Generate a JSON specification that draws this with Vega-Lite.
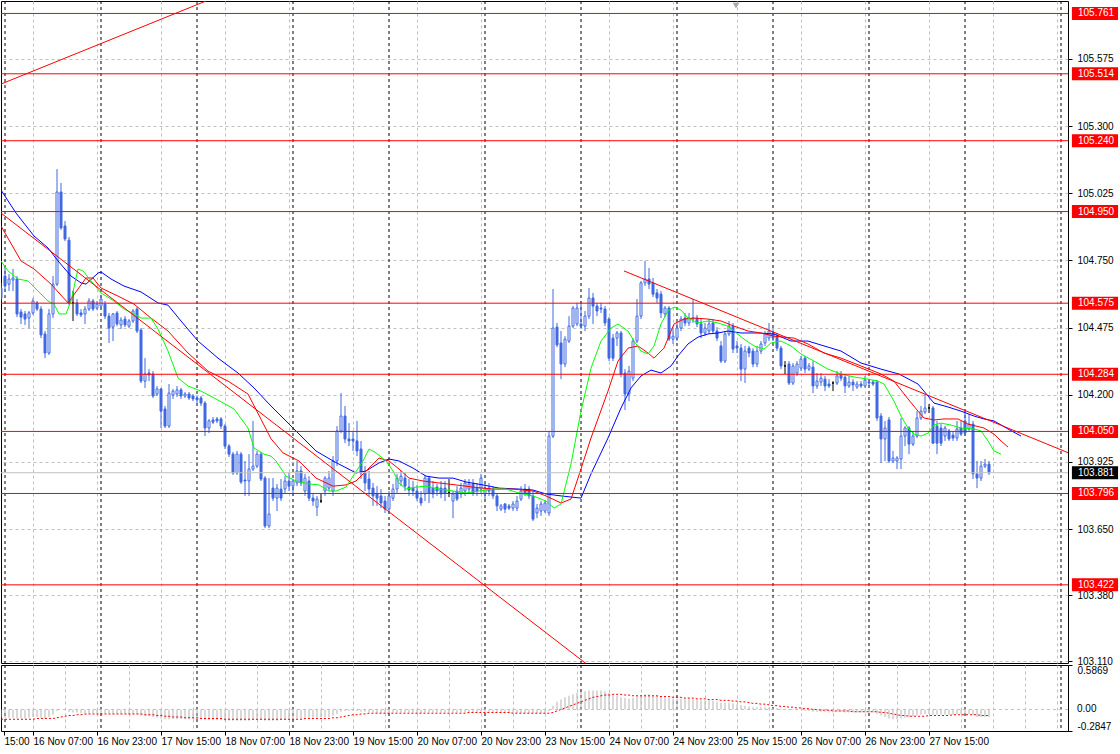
{
"$schema":"https://vega.github.io/schema/vega-lite/v6.json",
"padding":0,
"background":"white",
"spacing":2,
"bounds":"flush",
"config":{"view":{"stroke":"black","strokeWidth":1},"font":"Liberation Sans","axis":{"labelFont":"Liberation Sans","labelFontSize":10,"labelColor":"black","labelOverlap":false}},
"datasets":{
"candles":[
{"i":8,"o":104.637,"h":104.658,"l":104.584,"c":104.596,"m":-0.11,"s":-0.13},
{"i":9,"o":104.686,"h":104.719,"l":104.625,"c":104.645,"m":-0.11,"s":-0.13},
{"i":10,"o":104.653,"h":104.694,"l":104.625,"c":104.674,"m":-0.11,"s":-0.13},
{"i":11,"o":104.670,"h":104.715,"l":104.625,"c":104.678,"m":-0.11,"s":-0.13},
{"i":12,"o":104.674,"h":104.686,"l":104.518,"c":104.531,"m":-0.12,"s":-0.13},
{"i":13,"o":104.539,"h":104.551,"l":104.490,"c":104.518,"m":-0.12,"s":-0.13},
{"i":14,"o":104.531,"h":104.543,"l":104.486,"c":104.510,"m":-0.12,"s":-0.13},
{"i":15,"o":104.514,"h":104.543,"l":104.473,"c":104.535,"m":-0.11,"s":-0.13},
{"i":16,"o":104.535,"h":104.596,"l":104.527,"c":104.584,"m":-0.10,"s":-0.13},
{"i":17,"o":104.576,"h":104.584,"l":104.543,"c":104.551,"m":-0.10,"s":-0.12},
{"i":18,"o":104.551,"h":104.563,"l":104.432,"c":104.445,"m":-0.11,"s":-0.12},
{"i":19,"o":104.449,"h":104.461,"l":104.350,"c":104.371,"m":-0.12,"s":-0.12},
{"i":20,"o":104.371,"h":104.551,"l":104.363,"c":104.531,"m":-0.10,"s":-0.12},
{"i":21,"o":104.531,"h":104.686,"l":104.514,"c":104.653,"m":-0.07,"s":-0.12},
{"i":22,"o":104.653,"h":105.124,"l":104.645,"c":105.030,"m":-0.02,"s":-0.11},
{"i":23,"o":105.030,"h":105.067,"l":104.875,"c":104.883,"m":0.00,"s":-0.10},
{"i":24,"o":104.891,"h":104.911,"l":104.829,"c":104.838,"m":-0.01,"s":-0.09},
{"i":25,"o":104.833,"h":104.846,"l":104.567,"c":104.576,"m":-0.03,"s":-0.08},
{"i":26,"o":104.576,"h":104.625,"l":104.502,"c":104.576,"m":-0.04,"s":-0.08},
{"i":27,"o":104.576,"h":104.592,"l":104.522,"c":104.531,"m":-0.04,"s":-0.07},
{"i":28,"o":104.535,"h":104.551,"l":104.518,"c":104.527,"m":-0.05,"s":-0.07},
{"i":29,"o":104.531,"h":104.563,"l":104.490,"c":104.551,"m":-0.05,"s":-0.06},
{"i":30,"o":104.551,"h":104.596,"l":104.543,"c":104.584,"m":-0.05,"s":-0.06},
{"i":31,"o":104.584,"h":104.592,"l":104.543,"c":104.551,"m":-0.05,"s":-0.06},
{"i":32,"o":104.555,"h":104.584,"l":104.547,"c":104.571,"m":-0.05,"s":-0.06},
{"i":33,"o":104.563,"h":104.604,"l":104.555,"c":104.592,"m":-0.05,"s":-0.06},
{"i":34,"o":104.571,"h":104.584,"l":104.510,"c":104.522,"m":-0.05,"s":-0.06},
{"i":35,"o":104.522,"h":104.535,"l":104.412,"c":104.473,"m":-0.05,"s":-0.06},
{"i":36,"o":104.477,"h":104.535,"l":104.420,"c":104.531,"m":-0.06,"s":-0.06},
{"i":37,"o":104.535,"h":104.543,"l":104.481,"c":104.490,"m":-0.06,"s":-0.06},
{"i":38,"o":104.486,"h":104.518,"l":104.469,"c":104.506,"m":-0.06,"s":-0.06},
{"i":39,"o":104.510,"h":104.522,"l":104.477,"c":104.486,"m":-0.06,"s":-0.06},
{"i":40,"o":104.481,"h":104.510,"l":104.473,"c":104.502,"m":-0.06,"s":-0.06},
{"i":41,"o":104.502,"h":104.551,"l":104.494,"c":104.543,"m":-0.06,"s":-0.06},
{"i":42,"o":104.551,"h":104.559,"l":104.453,"c":104.461,"m":-0.06,"s":-0.06},
{"i":43,"o":104.465,"h":104.473,"l":104.248,"c":104.256,"m":-0.08,"s":-0.06},
{"i":44,"o":104.256,"h":104.350,"l":104.228,"c":104.285,"m":-0.09,"s":-0.07},
{"i":45,"o":104.289,"h":104.305,"l":104.256,"c":104.281,"m":-0.09,"s":-0.07},
{"i":46,"o":104.285,"h":104.297,"l":104.187,"c":104.195,"m":-0.10,"s":-0.07},
{"i":47,"o":104.203,"h":104.236,"l":104.195,"c":104.224,"m":-0.11,"s":-0.08},
{"i":48,"o":104.224,"h":104.228,"l":104.064,"c":104.133,"m":-0.12,"s":-0.08},
{"i":49,"o":104.142,"h":104.154,"l":104.064,"c":104.072,"m":-0.13,"s":-0.09},
{"i":50,"o":104.072,"h":104.244,"l":104.064,"c":104.207,"m":-0.13,"s":-0.09},
{"i":51,"o":104.199,"h":104.224,"l":104.183,"c":104.215,"m":-0.13,"s":-0.10},
{"i":52,"o":104.203,"h":104.236,"l":104.191,"c":104.220,"m":-0.13,"s":-0.10},
{"i":53,"o":104.220,"h":104.228,"l":104.183,"c":104.195,"m":-0.13,"s":-0.10},
{"i":54,"o":104.195,"h":104.211,"l":104.187,"c":104.203,"m":-0.13,"s":-0.11},
{"i":55,"o":104.203,"h":104.211,"l":104.179,"c":104.187,"m":-0.13,"s":-0.11},
{"i":56,"o":104.195,"h":104.203,"l":104.174,"c":104.183,"m":-0.13,"s":-0.11},
{"i":57,"o":104.187,"h":104.195,"l":104.166,"c":104.179,"m":-0.13,"s":-0.11},
{"i":58,"o":104.187,"h":104.195,"l":104.154,"c":104.166,"m":-0.13,"s":-0.12},
{"i":59,"o":104.166,"h":104.174,"l":104.031,"c":104.064,"m":-0.14,"s":-0.12},
{"i":60,"o":104.064,"h":104.101,"l":104.043,"c":104.093,"m":-0.14,"s":-0.12},
{"i":61,"o":104.097,"h":104.109,"l":104.080,"c":104.088,"m":-0.14,"s":-0.12},
{"i":62,"o":104.101,"h":104.109,"l":104.084,"c":104.093,"m":-0.14,"s":-0.12},
{"i":63,"o":104.101,"h":104.109,"l":104.060,"c":104.072,"m":-0.14,"s":-0.12},
{"i":64,"o":104.072,"h":104.080,"l":103.978,"c":103.990,"m":-0.15,"s":-0.13},
{"i":65,"o":103.990,"h":103.998,"l":103.945,"c":103.957,"m":-0.15,"s":-0.13},
{"i":66,"o":103.957,"h":103.966,"l":103.872,"c":103.880,"m":-0.15,"s":-0.13},
{"i":67,"o":103.880,"h":103.970,"l":103.872,"c":103.957,"m":-0.15,"s":-0.13},
{"i":68,"o":103.957,"h":103.966,"l":103.835,"c":103.843,"m":-0.15,"s":-0.13},
{"i":69,"o":103.851,"h":103.929,"l":103.786,"c":103.847,"m":-0.15,"s":-0.13},
{"i":70,"o":103.847,"h":103.957,"l":103.786,"c":103.896,"m":-0.15,"s":-0.13},
{"i":71,"o":103.896,"h":104.093,"l":103.888,"c":103.908,"m":-0.14,"s":-0.13},
{"i":72,"o":103.908,"h":103.970,"l":103.900,"c":103.957,"m":-0.14,"s":-0.13},
{"i":73,"o":103.957,"h":103.966,"l":103.847,"c":103.855,"m":-0.14,"s":-0.13},
{"i":74,"o":103.859,"h":103.867,"l":103.654,"c":103.663,"m":-0.15,"s":-0.13},
{"i":75,"o":103.663,"h":103.859,"l":103.654,"c":103.712,"m":-0.15,"s":-0.13},
{"i":76,"o":103.818,"h":103.859,"l":103.765,"c":103.777,"m":-0.15,"s":-0.13},
{"i":77,"o":103.777,"h":103.835,"l":103.724,"c":103.818,"m":-0.15,"s":-0.13},
{"i":78,"o":103.814,"h":103.855,"l":103.765,"c":103.777,"m":-0.14,"s":-0.13},
{"i":79,"o":103.814,"h":103.867,"l":103.798,"c":103.847,"m":-0.14,"s":-0.13},
{"i":80,"o":103.847,"h":103.880,"l":103.806,"c":103.826,"m":-0.14,"s":-0.13},
{"i":81,"o":103.826,"h":103.855,"l":103.786,"c":103.847,"m":-0.13,"s":-0.13},
{"i":82,"o":103.839,"h":103.929,"l":103.826,"c":103.888,"m":-0.12,"s":-0.13},
{"i":83,"o":103.888,"h":103.908,"l":103.826,"c":103.839,"m":-0.12,"s":-0.13},
{"i":84,"o":103.806,"h":103.876,"l":103.786,"c":103.859,"m":-0.11,"s":-0.12},
{"i":85,"o":103.847,"h":103.867,"l":103.765,"c":103.777,"m":-0.11,"s":-0.12},
{"i":86,"o":103.777,"h":103.798,"l":103.745,"c":103.765,"m":-0.11,"s":-0.12},
{"i":87,"o":103.740,"h":103.786,"l":103.704,"c":103.773,"m":-0.11,"s":-0.12},
{"i":88,"o":103.765,"h":103.798,"l":103.757,"c":103.765,"m":-0.10,"s":-0.12},
{"i":89,"o":103.806,"h":103.867,"l":103.786,"c":103.859,"m":-0.10,"s":-0.12},
{"i":90,"o":103.818,"h":103.888,"l":103.806,"c":103.859,"m":-0.10,"s":-0.12},
{"i":91,"o":103.806,"h":103.949,"l":103.786,"c":103.929,"m":-0.08,"s":-0.11},
{"i":92,"o":103.929,"h":104.072,"l":103.908,"c":104.052,"m":-0.06,"s":-0.11},
{"i":93,"o":104.052,"h":104.207,"l":104.043,"c":104.113,"m":-0.03,"s":-0.10},
{"i":94,"o":104.113,"h":104.154,"l":104.002,"c":104.019,"m":-0.02,"s":-0.09},
{"i":95,"o":104.019,"h":104.084,"l":103.990,"c":104.011,"m":-0.02,"s":-0.08},
{"i":96,"o":104.019,"h":104.052,"l":103.970,"c":104.011,"m":-0.02,"s":-0.07},
{"i":97,"o":104.011,"h":104.093,"l":103.949,"c":103.970,"m":-0.02,"s":-0.07},
{"i":98,"o":103.978,"h":104.011,"l":103.855,"c":103.880,"m":-0.03,"s":-0.06},
{"i":99,"o":103.880,"h":103.908,"l":103.806,"c":103.839,"m":-0.03,"s":-0.06},
{"i":100,"o":103.855,"h":103.888,"l":103.786,"c":103.814,"m":-0.04,"s":-0.05},
{"i":101,"o":103.818,"h":103.839,"l":103.745,"c":103.786,"m":-0.04,"s":-0.05},
{"i":102,"o":103.794,"h":103.826,"l":103.745,"c":103.777,"m":-0.05,"s":-0.05},
{"i":103,"o":103.786,"h":103.814,"l":103.736,"c":103.757,"m":-0.05,"s":-0.05},
{"i":104,"o":103.765,"h":103.786,"l":103.716,"c":103.732,"m":-0.05,"s":-0.05},
{"i":105,"o":103.732,"h":103.806,"l":103.716,"c":103.786,"m":-0.05,"s":-0.05},
{"i":106,"o":103.777,"h":103.835,"l":103.765,"c":103.814,"m":-0.04,"s":-0.05},
{"i":107,"o":103.814,"h":103.876,"l":103.798,"c":103.859,"m":-0.04,"s":-0.05},
{"i":108,"o":103.847,"h":103.888,"l":103.826,"c":103.867,"m":-0.04,"s":-0.05},
{"i":109,"o":103.859,"h":103.880,"l":103.806,"c":103.826,"m":-0.04,"s":-0.05},
{"i":110,"o":103.822,"h":103.855,"l":103.786,"c":103.810,"m":-0.04,"s":-0.05},
{"i":111,"o":103.818,"h":103.847,"l":103.786,"c":103.806,"m":-0.04,"s":-0.05},
{"i":112,"o":103.806,"h":103.831,"l":103.765,"c":103.777,"m":-0.05,"s":-0.05},
{"i":113,"o":103.777,"h":103.806,"l":103.745,"c":103.757,"m":-0.05,"s":-0.05},
{"i":114,"o":103.794,"h":103.872,"l":103.765,"c":103.859,"m":-0.04,"s":-0.05},
{"i":115,"o":103.859,"h":103.867,"l":103.757,"c":103.798,"m":-0.04,"s":-0.05},
{"i":116,"o":103.818,"h":103.847,"l":103.777,"c":103.794,"m":-0.04,"s":-0.05},
{"i":117,"o":103.822,"h":103.835,"l":103.786,"c":103.806,"m":-0.04,"s":-0.05},
{"i":118,"o":103.818,"h":103.847,"l":103.777,"c":103.794,"m":-0.04,"s":-0.05},
{"i":119,"o":103.818,"h":103.847,"l":103.765,"c":103.798,"m":-0.04,"s":-0.05},
{"i":120,"o":103.798,"h":103.855,"l":103.781,"c":103.798,"m":-0.04,"s":-0.05},
{"i":121,"o":103.765,"h":103.806,"l":103.695,"c":103.794,"m":-0.04,"s":-0.05},
{"i":122,"o":103.806,"h":103.826,"l":103.765,"c":103.773,"m":-0.04,"s":-0.05},
{"i":123,"o":103.794,"h":103.839,"l":103.777,"c":103.818,"m":-0.04,"s":-0.05},
{"i":124,"o":103.806,"h":103.855,"l":103.786,"c":103.839,"m":-0.04,"s":-0.05},
{"i":125,"o":103.814,"h":103.855,"l":103.798,"c":103.835,"m":-0.04,"s":-0.04},
{"i":126,"o":103.835,"h":103.855,"l":103.786,"c":103.798,"m":-0.04,"s":-0.04},
{"i":127,"o":103.818,"h":103.839,"l":103.786,"c":103.806,"m":-0.04,"s":-0.04},
{"i":128,"o":103.814,"h":103.876,"l":103.798,"c":103.859,"m":-0.03,"s":-0.04},
{"i":129,"o":103.794,"h":103.835,"l":103.773,"c":103.818,"m":-0.03,"s":-0.04},
{"i":130,"o":103.818,"h":103.839,"l":103.786,"c":103.806,"m":-0.03,"s":-0.04},
{"i":131,"o":103.814,"h":103.826,"l":103.773,"c":103.786,"m":-0.04,"s":-0.04},
{"i":132,"o":103.786,"h":103.798,"l":103.724,"c":103.745,"m":-0.04,"s":-0.04},
{"i":133,"o":103.732,"h":103.753,"l":103.724,"c":103.745,"m":-0.05,"s":-0.04},
{"i":134,"o":103.753,"h":103.757,"l":103.716,"c":103.732,"m":-0.05,"s":-0.04},
{"i":135,"o":103.745,"h":103.753,"l":103.728,"c":103.736,"m":-0.05,"s":-0.04},
{"i":136,"o":103.736,"h":103.765,"l":103.724,"c":103.753,"m":-0.05,"s":-0.05},
{"i":137,"o":103.736,"h":103.786,"l":103.724,"c":103.765,"m":-0.05,"s":-0.05},
{"i":138,"o":103.773,"h":103.826,"l":103.765,"c":103.806,"m":-0.05,"s":-0.05},
{"i":139,"o":103.814,"h":103.835,"l":103.786,"c":103.798,"m":-0.05,"s":-0.05},
{"i":140,"o":103.814,"h":103.826,"l":103.773,"c":103.786,"m":-0.05,"s":-0.05},
{"i":141,"o":103.786,"h":103.806,"l":103.683,"c":103.691,"m":-0.05,"s":-0.05},
{"i":142,"o":103.716,"h":103.753,"l":103.695,"c":103.736,"m":-0.05,"s":-0.05},
{"i":143,"o":103.724,"h":103.765,"l":103.704,"c":103.753,"m":-0.05,"s":-0.05},
{"i":144,"o":103.724,"h":103.765,"l":103.716,"c":103.757,"m":-0.05,"s":-0.05},
{"i":145,"o":103.716,"h":104.052,"l":103.704,"c":104.031,"m":-0.02,"s":-0.05},
{"i":146,"o":104.031,"h":104.633,"l":104.023,"c":104.473,"m":0.05,"s":-0.04},
{"i":147,"o":104.477,"h":104.494,"l":104.395,"c":104.404,"m":0.10,"s":-0.02},
{"i":148,"o":104.412,"h":104.461,"l":104.264,"c":104.326,"m":0.13,"s":0.00},
{"i":149,"o":104.326,"h":104.440,"l":104.313,"c":104.428,"m":0.16,"s":0.02},
{"i":150,"o":104.420,"h":104.522,"l":104.412,"c":104.481,"m":0.18,"s":0.04},
{"i":151,"o":104.481,"h":104.563,"l":104.473,"c":104.555,"m":0.20,"s":0.06},
{"i":152,"o":104.490,"h":104.576,"l":104.481,"c":104.555,"m":0.22,"s":0.08},
{"i":153,"o":104.490,"h":104.584,"l":104.473,"c":104.481,"m":0.23,"s":0.10},
{"i":154,"o":104.481,"h":104.543,"l":104.461,"c":104.522,"m":0.24,"s":0.12},
{"i":155,"o":104.522,"h":104.637,"l":104.510,"c":104.596,"m":0.25,"s":0.14},
{"i":156,"o":104.596,"h":104.617,"l":104.490,"c":104.563,"m":0.25,"s":0.16},
{"i":157,"o":104.563,"h":104.576,"l":104.522,"c":104.543,"m":0.25,"s":0.17},
{"i":158,"o":104.555,"h":104.576,"l":104.535,"c":104.551,"m":0.25,"s":0.18},
{"i":159,"o":104.551,"h":104.563,"l":104.481,"c":104.494,"m":0.24,"s":0.19},
{"i":160,"o":104.510,"h":104.518,"l":104.338,"c":104.350,"m":0.22,"s":0.19},
{"i":161,"o":104.432,"h":104.449,"l":104.338,"c":104.350,"m":0.20,"s":0.20},
{"i":162,"o":104.432,"h":104.461,"l":104.400,"c":104.453,"m":0.18,"s":0.20},
{"i":163,"o":104.453,"h":104.461,"l":104.272,"c":104.285,"m":0.16,"s":0.20},
{"i":164,"o":104.289,"h":104.305,"l":104.138,"c":104.203,"m":0.15,"s":0.19},
{"i":165,"o":104.203,"h":104.318,"l":104.174,"c":104.297,"m":0.14,"s":0.19},
{"i":166,"o":104.268,"h":104.432,"l":104.256,"c":104.420,"m":0.15,"s":0.18},
{"i":167,"o":104.420,"h":104.592,"l":104.412,"c":104.522,"m":0.17,"s":0.18},
{"i":168,"o":104.522,"h":104.666,"l":104.510,"c":104.658,"m":0.19,"s":0.18},
{"i":169,"o":104.658,"h":104.748,"l":104.645,"c":104.674,"m":0.20,"s":0.18},
{"i":170,"o":104.674,"h":104.719,"l":104.633,"c":104.653,"m":0.20,"s":0.18},
{"i":171,"o":104.658,"h":104.678,"l":104.600,"c":104.612,"m":0.19,"s":0.18},
{"i":172,"o":104.617,"h":104.633,"l":104.576,"c":104.596,"m":0.18,"s":0.18},
{"i":173,"o":104.612,"h":104.625,"l":104.514,"c":104.535,"m":0.17,"s":0.17},
{"i":174,"o":104.531,"h":104.563,"l":104.518,"c":104.555,"m":0.16,"s":0.17},
{"i":175,"o":104.555,"h":104.563,"l":104.420,"c":104.428,"m":0.15,"s":0.17},
{"i":176,"o":104.428,"h":104.473,"l":104.408,"c":104.440,"m":0.14,"s":0.16},
{"i":177,"o":104.432,"h":104.494,"l":104.420,"c":104.473,"m":0.14,"s":0.16},
{"i":178,"o":104.473,"h":104.522,"l":104.461,"c":104.510,"m":0.14,"s":0.16},
{"i":179,"o":104.514,"h":104.535,"l":104.481,"c":104.494,"m":0.14,"s":0.15},
{"i":180,"o":104.494,"h":104.535,"l":104.481,"c":104.514,"m":0.14,"s":0.15},
{"i":181,"o":104.510,"h":104.592,"l":104.494,"c":104.514,"m":0.13,"s":0.15},
{"i":182,"o":104.514,"h":104.527,"l":104.477,"c":104.490,"m":0.13,"s":0.14},
{"i":183,"o":104.490,"h":104.510,"l":104.432,"c":104.453,"m":0.12,"s":0.14},
{"i":184,"o":104.453,"h":104.494,"l":104.440,"c":104.473,"m":0.12,"s":0.14},
{"i":185,"o":104.461,"h":104.510,"l":104.449,"c":104.490,"m":0.12,"s":0.13},
{"i":186,"o":104.494,"h":104.510,"l":104.449,"c":104.461,"m":0.11,"s":0.13},
{"i":187,"o":104.461,"h":104.477,"l":104.420,"c":104.432,"m":0.10,"s":0.13},
{"i":188,"o":104.400,"h":104.420,"l":104.330,"c":104.338,"m":0.09,"s":0.12},
{"i":189,"o":104.338,"h":104.461,"l":104.330,"c":104.449,"m":0.09,"s":0.12},
{"i":190,"o":104.449,"h":104.502,"l":104.440,"c":104.481,"m":0.09,"s":0.12},
{"i":191,"o":104.481,"h":104.494,"l":104.371,"c":104.387,"m":0.08,"s":0.11},
{"i":192,"o":104.400,"h":104.420,"l":104.371,"c":104.391,"m":0.07,"s":0.11},
{"i":193,"o":104.391,"h":104.408,"l":104.256,"c":104.305,"m":0.06,"s":0.10},
{"i":194,"o":104.305,"h":104.400,"l":104.248,"c":104.379,"m":0.05,"s":0.10},
{"i":195,"o":104.391,"h":104.400,"l":104.354,"c":104.371,"m":0.04,"s":0.09},
{"i":196,"o":104.379,"h":104.391,"l":104.313,"c":104.326,"m":0.03,"s":0.08},
{"i":197,"o":104.326,"h":104.400,"l":104.313,"c":104.379,"m":0.03,"s":0.08},
{"i":198,"o":104.379,"h":104.420,"l":104.367,"c":104.408,"m":0.03,"s":0.07},
{"i":199,"o":104.412,"h":104.461,"l":104.400,"c":104.449,"m":0.03,"s":0.07},
{"i":200,"o":104.432,"h":104.494,"l":104.420,"c":104.461,"m":0.03,"s":0.06},
{"i":201,"o":104.453,"h":104.469,"l":104.420,"c":104.432,"m":0.02,"s":0.05},
{"i":202,"o":104.440,"h":104.453,"l":104.379,"c":104.391,"m":0.02,"s":0.05},
{"i":203,"o":104.391,"h":104.400,"l":104.305,"c":104.318,"m":0.01,"s":0.04},
{"i":204,"o":104.318,"h":104.338,"l":104.285,"c":104.318,"m":0.00,"s":0.04},
{"i":205,"o":104.326,"h":104.338,"l":104.240,"c":104.248,"m":-0.01,"s":0.03},
{"i":206,"o":104.248,"h":104.330,"l":104.240,"c":104.318,"m":-0.01,"s":0.03},
{"i":207,"o":104.289,"h":104.338,"l":104.277,"c":104.326,"m":-0.01,"s":0.02},
{"i":208,"o":104.309,"h":104.359,"l":104.297,"c":104.346,"m":-0.01,"s":0.02},
{"i":209,"o":104.350,"h":104.359,"l":104.289,"c":104.305,"m":-0.02,"s":0.01},
{"i":210,"o":104.305,"h":104.330,"l":104.297,"c":104.318,"m":-0.02,"s":0.01},
{"i":211,"o":104.313,"h":104.338,"l":104.207,"c":104.236,"m":-0.03,"s":0.00},
{"i":212,"o":104.236,"h":104.289,"l":104.224,"c":104.256,"m":-0.03,"s":0.00},
{"i":213,"o":104.252,"h":104.289,"l":104.236,"c":104.268,"m":-0.03,"s":-0.01},
{"i":214,"o":104.264,"h":104.277,"l":104.215,"c":104.236,"m":-0.03,"s":-0.01},
{"i":215,"o":104.244,"h":104.264,"l":104.228,"c":104.236,"m":-0.04,"s":-0.01},
{"i":216,"o":104.248,"h":104.256,"l":104.215,"c":104.248,"m":-0.04,"s":-0.02},
{"i":217,"o":104.248,"h":104.297,"l":104.240,"c":104.277,"m":-0.03,"s":-0.02},
{"i":218,"o":104.281,"h":104.297,"l":104.256,"c":104.268,"m":-0.03,"s":-0.02},
{"i":219,"o":104.272,"h":104.285,"l":104.207,"c":104.236,"m":-0.04,"s":-0.02},
{"i":220,"o":104.236,"h":104.277,"l":104.228,"c":104.252,"m":-0.04,"s":-0.02},
{"i":221,"o":104.252,"h":104.264,"l":104.215,"c":104.240,"m":-0.04,"s":-0.03},
{"i":222,"o":104.232,"h":104.256,"l":104.224,"c":104.244,"m":-0.04,"s":-0.03},
{"i":223,"o":104.244,"h":104.256,"l":104.228,"c":104.236,"m":-0.04,"s":-0.03},
{"i":224,"o":104.236,"h":104.277,"l":104.228,"c":104.260,"m":-0.04,"s":-0.03},
{"i":225,"o":104.252,"h":104.264,"l":104.236,"c":104.248,"m":-0.04,"s":-0.03},
{"i":226,"o":104.252,"h":104.260,"l":104.236,"c":104.244,"m":-0.04,"s":-0.03},
{"i":227,"o":104.252,"h":104.260,"l":104.093,"c":104.105,"m":-0.06,"s":-0.03},
{"i":228,"o":104.113,"h":104.125,"l":103.921,"c":104.019,"m":-0.08,"s":-0.04},
{"i":229,"o":104.019,"h":104.093,"l":103.929,"c":104.064,"m":-0.10,"s":-0.04},
{"i":230,"o":104.097,"h":104.109,"l":103.921,"c":103.929,"m":-0.12,"s":-0.05},
{"i":231,"o":103.929,"h":103.970,"l":103.921,"c":103.941,"m":-0.13,"s":-0.06},
{"i":232,"o":103.929,"h":103.949,"l":103.896,"c":103.941,"m":-0.13,"s":-0.07},
{"i":233,"o":103.937,"h":104.105,"l":103.896,"c":104.031,"m":-0.12,"s":-0.08},
{"i":234,"o":104.031,"h":104.072,"l":103.990,"c":104.064,"m":-0.11,"s":-0.08},
{"i":235,"o":104.064,"h":104.072,"l":103.957,"c":103.998,"m":-0.10,"s":-0.09},
{"i":236,"o":103.998,"h":104.052,"l":103.990,"c":104.031,"m":-0.09,"s":-0.09},
{"i":237,"o":104.031,"h":104.133,"l":104.023,"c":104.105,"m":-0.08,"s":-0.09},
{"i":238,"o":104.105,"h":104.154,"l":104.097,"c":104.133,"m":-0.07,"s":-0.09},
{"i":239,"o":104.129,"h":104.203,"l":104.121,"c":104.146,"m":-0.06,"s":-0.09},
{"i":240,"o":104.146,"h":104.162,"l":104.125,"c":104.146,"m":-0.06,"s":-0.08},
{"i":241,"o":104.146,"h":104.154,"l":103.998,"c":104.002,"m":-0.07,"s":-0.08},
{"i":242,"o":104.072,"h":104.093,"l":103.957,"c":104.002,"m":-0.07,"s":-0.08},
{"i":243,"o":104.064,"h":104.080,"l":103.990,"c":104.002,"m":-0.07,"s":-0.08},
{"i":244,"o":104.031,"h":104.072,"l":104.011,"c":104.064,"m":-0.07,"s":-0.08},
{"i":245,"o":104.052,"h":104.060,"l":104.011,"c":104.019,"m":-0.07,"s":-0.08},
{"i":246,"o":104.035,"h":104.052,"l":104.011,"c":104.023,"m":-0.07,"s":-0.07},
{"i":247,"o":104.023,"h":104.093,"l":104.011,"c":104.060,"m":-0.06,"s":-0.07},
{"i":248,"o":104.064,"h":104.093,"l":104.031,"c":104.039,"m":-0.06,"s":-0.07},
{"i":249,"o":104.093,"h":104.133,"l":104.031,"c":104.043,"m":-0.06,"s":-0.07},
{"i":250,"o":104.060,"h":104.121,"l":104.052,"c":104.080,"m":-0.06,"s":-0.07},
{"i":251,"o":104.080,"h":104.093,"l":103.855,"c":103.876,"m":-0.08,"s":-0.07},
{"i":252,"o":103.876,"h":103.929,"l":103.818,"c":103.859,"m":-0.10,"s":-0.07},
{"i":253,"o":103.859,"h":103.929,"l":103.847,"c":103.908,"m":-0.10,"s":-0.08},
{"i":254,"o":103.908,"h":103.937,"l":103.900,"c":103.916,"m":-0.10,"s":-0.08},
{"i":255,"o":103.916,"h":103.929,"l":103.872,"c":103.881,"m":-0.10,"s":-0.08}
],
"ma":[
{"k":"jaw","i":8,"p":105.038},{"k":"jaw","i":11.75,"p":104.944},{"k":"jaw","i":16.25,"p":104.850},{"k":"jaw","i":19.75,"p":104.801},{"k":"jaw","i":22.25,"p":104.748},{"k":"jaw","i":25.5,"p":104.686},{"k":"jaw","i":28,"p":104.658},{"k":"jaw","i":29.25,"p":104.653},{"k":"jaw","i":32.25,"p":104.698},{"k":"jaw","i":33,"p":104.703},{"k":"jaw","i":35.5,"p":104.674},{"k":"jaw","i":38.75,"p":104.645},{"k":"jaw","i":43,"p":104.621},{"k":"jaw","i":47.25,"p":104.576},{"k":"jaw","i":49.75,"p":104.567},{"k":"jaw","i":53,"p":104.502},{"k":"jaw","i":57.25,"p":104.420},{"k":"jaw","i":62.25,"p":104.350},{"k":"jaw","i":67.25,"p":104.289},{"k":"jaw","i":71.25,"p":104.228},{"k":"jaw","i":75.5,"p":104.154},{"k":"jaw","i":81,"p":104.064},{"k":"jaw","i":86.75,"p":103.970},{"k":"jaw","i":91,"p":103.929},{"k":"jaw","i":96.75,"p":103.880},{"k":"jaw","i":99.25,"p":103.888},{"k":"jaw","i":102.5,"p":103.921},{"k":"jaw","i":105,"p":103.937},{"k":"jaw","i":107.5,"p":103.929},{"k":"jaw","i":111,"p":103.900},{"k":"jaw","i":114.25,"p":103.867},{"k":"jaw","i":117.5,"p":103.859},{"k":"jaw","i":121,"p":103.859},{"k":"jaw","i":124.25,"p":103.843},{"k":"jaw","i":128.5,"p":103.831},{"k":"jaw","i":132.5,"p":103.818},{"k":"jaw","i":137.5,"p":103.814},{"k":"jaw","i":141,"p":103.810},{"k":"jaw","i":144.25,"p":103.794},{"k":"jaw","i":148,"p":103.786},{"k":"jaw","i":153,"p":103.777},{"k":"jaw","i":155.5,"p":103.876},{"k":"jaw","i":159.75,"p":104.023},{"k":"jaw","i":163,"p":104.146},{"k":"jaw","i":165.5,"p":104.228},{"k":"jaw","i":168,"p":104.277},{"k":"jaw","i":170.5,"p":104.301},{"k":"jaw","i":173,"p":104.289},{"k":"jaw","i":175.5,"p":104.318},{"k":"jaw","i":177.25,"p":104.359},{"k":"jaw","i":179.75,"p":104.408},{"k":"jaw","i":182.25,"p":104.436},{"k":"jaw","i":184.75,"p":104.449},{"k":"jaw","i":187.25,"p":104.453},{"k":"jaw","i":189.75,"p":104.461},{"k":"jaw","i":193,"p":104.453},{"k":"jaw","i":197.25,"p":104.453},{"k":"jaw","i":201.25,"p":104.449},{"k":"jaw","i":205.5,"p":104.420},{"k":"jaw","i":209.75,"p":104.420},{"k":"jaw","i":213.75,"p":104.400},{"k":"jaw","i":218,"p":104.379},{"k":"jaw","i":223,"p":104.330},{"k":"jaw","i":228,"p":104.305},{"k":"jaw","i":232.5,"p":104.285},{"k":"jaw","i":237.25,"p":104.244},{"k":"jaw","i":239.75,"p":104.195},{"k":"jaw","i":241.25,"p":104.166},{"k":"jaw","i":244.75,"p":104.150},{"k":"jaw","i":248,"p":104.133},{"k":"jaw","i":251.25,"p":104.113},{"k":"jaw","i":253.75,"p":104.101},{"k":"jaw","i":256.25,"p":104.093},{"k":"jaw","i":259.75,"p":104.060},{"k":"jaw","i":263,"p":104.031},
{"k":"teeth","i":8,"p":104.891},{"k":"teeth","i":13,"p":104.748},{"k":"teeth","i":16.25,"p":104.715},{"k":"teeth","i":20.5,"p":104.653},{"k":"teeth","i":24.75,"p":104.576},{"k":"teeth","i":27.25,"p":104.633},{"k":"teeth","i":29.25,"p":104.678},{"k":"teeth","i":31,"p":104.678},{"k":"teeth","i":33,"p":104.637},{"k":"teeth","i":37.25,"p":104.604},{"k":"teeth","i":41.25,"p":104.571},{"k":"teeth","i":45.5,"p":104.514},{"k":"teeth","i":49.75,"p":104.461},{"k":"teeth","i":54.75,"p":104.371},{"k":"teeth","i":59.75,"p":104.297},{"k":"teeth","i":64.75,"p":104.256},{"k":"teeth","i":69.75,"p":104.203},{"k":"teeth","i":73,"p":104.100},{"k":"teeth","i":75.5,"p":104.020},{"k":"teeth","i":78.5,"p":103.962},{"k":"teeth","i":82.5,"p":103.929},{"k":"teeth","i":86.75,"p":103.859},{"k":"teeth","i":91,"p":103.826},{"k":"teeth","i":94.25,"p":103.831},{"k":"teeth","i":96.75,"p":103.847},{"k":"teeth","i":100,"p":103.900},{"k":"teeth","i":102.5,"p":103.941},{"k":"teeth","i":105,"p":103.929},{"k":"teeth","i":107.5,"p":103.896},{"k":"teeth","i":110,"p":103.859},{"k":"teeth","i":113.5,"p":103.847},{"k":"teeth","i":117.5,"p":103.839},{"k":"teeth","i":121.75,"p":103.831},{"k":"teeth","i":126,"p":103.822},{"k":"teeth","i":131,"p":103.814},{"k":"teeth","i":136,"p":103.814},{"k":"teeth","i":141,"p":103.806},{"k":"teeth","i":144.25,"p":103.786},{"k":"teeth","i":148,"p":103.757},{"k":"teeth","i":150.5,"p":103.773},{"k":"teeth","i":152.25,"p":103.859},{"k":"teeth","i":155.5,"p":104.023},{"k":"teeth","i":159.75,"p":104.215},{"k":"teeth","i":162.25,"p":104.338},{"k":"teeth","i":164.75,"p":104.391},{"k":"teeth","i":167.25,"p":104.400},{"k":"teeth","i":169.75,"p":104.371},{"k":"teeth","i":171.25,"p":104.350},{"k":"teeth","i":173.75,"p":104.391},{"k":"teeth","i":176.25,"p":104.490},{"k":"teeth","i":178.75,"p":104.510},{"k":"teeth","i":181.25,"p":104.514},{"k":"teeth","i":184.75,"p":104.510},{"k":"teeth","i":188,"p":104.502},{"k":"teeth","i":191.25,"p":104.481},{"k":"teeth","i":194.75,"p":104.461},{"k":"teeth","i":198,"p":104.453},{"k":"teeth","i":201.25,"p":104.440},{"k":"teeth","i":206.25,"p":104.432},{"k":"teeth","i":209.75,"p":104.408},{"k":"teeth","i":213.75,"p":104.371},{"k":"teeth","i":218,"p":104.350},{"k":"teeth","i":223,"p":104.318},{"k":"teeth","i":228,"p":104.285},{"k":"teeth","i":231.25,"p":104.256},{"k":"teeth","i":234.75,"p":104.183},{"k":"teeth","i":237.25,"p":104.133},{"k":"teeth","i":238.75,"p":104.105},{"k":"teeth","i":241.25,"p":104.097},{"k":"teeth","i":243.75,"p":104.101},{"k":"teeth","i":247.25,"p":104.101},{"k":"teeth","i":249.75,"p":104.080},{"k":"teeth","i":253.75,"p":104.064},{"k":"teeth","i":256.25,"p":104.039},{"k":"teeth","i":258,"p":104.011},{"k":"teeth","i":259.75,"p":103.986},
{"k":"lips","i":8,"p":104.748},{"k":"lips","i":9.75,"p":104.707},{"k":"lips","i":12.25,"p":104.674},{"k":"lips","i":14.75,"p":104.666},{"k":"lips","i":17.25,"p":104.625},{"k":"lips","i":19.75,"p":104.584},{"k":"lips","i":21.25,"p":104.571},{"k":"lips","i":22.5,"p":104.531},{"k":"lips","i":24.25,"p":104.531},{"k":"lips","i":25.5,"p":104.584},{"k":"lips","i":27.25,"p":104.715},{"k":"lips","i":28.5,"p":104.707},{"k":"lips","i":30.5,"p":104.666},{"k":"lips","i":33,"p":104.617},{"k":"lips","i":36.25,"p":104.584},{"k":"lips","i":38.75,"p":104.551},{"k":"lips","i":41.25,"p":104.531},{"k":"lips","i":43,"p":104.514},{"k":"lips","i":45.5,"p":104.514},{"k":"lips","i":47.25,"p":104.469},{"k":"lips","i":49.75,"p":104.379},{"k":"lips","i":52.25,"p":104.269},{"k":"lips","i":54.75,"p":104.236},{"k":"lips","i":58,"p":104.215},{"k":"lips","i":61.25,"p":104.187},{"k":"lips","i":66.25,"p":104.142},{"k":"lips","i":69.75,"p":104.064},{"k":"lips","i":71.25,"p":103.982},{"k":"lips","i":73.75,"p":103.957},{"k":"lips","i":75.5,"p":103.949},{"k":"lips","i":76.75,"p":103.929},{"k":"lips","i":79.25,"p":103.867},{"k":"lips","i":81.75,"p":103.847},{"k":"lips","i":85,"p":103.835},{"k":"lips","i":87.5,"p":103.831},{"k":"lips","i":90,"p":103.806},{"k":"lips","i":91.75,"p":103.806},{"k":"lips","i":94.25,"p":103.822},{"k":"lips","i":96,"p":103.867},{"k":"lips","i":98.5,"p":103.929},{"k":"lips","i":100,"p":103.978},{"k":"lips","i":101.75,"p":103.962},{"k":"lips","i":104.25,"p":103.929},{"k":"lips","i":106,"p":103.888},{"k":"lips","i":107.5,"p":103.839},{"k":"lips","i":109.25,"p":103.814},{"k":"lips","i":111.75,"p":103.822},{"k":"lips","i":114.25,"p":103.826},{"k":"lips","i":117.5,"p":103.814},{"k":"lips","i":121,"p":103.806},{"k":"lips","i":124.25,"p":103.798},{"k":"lips","i":127.5,"p":103.806},{"k":"lips","i":131,"p":103.814},{"k":"lips","i":134.25,"p":103.814},{"k":"lips","i":137.5,"p":103.798},{"k":"lips","i":141,"p":103.786},{"k":"lips","i":144.25,"p":103.765},{"k":"lips","i":146.25,"p":103.736},{"k":"lips","i":148,"p":103.753},{"k":"lips","i":150.5,"p":103.917},{"k":"lips","i":153,"p":104.133},{"k":"lips","i":155.5,"p":104.309},{"k":"lips","i":158,"p":104.420},{"k":"lips","i":160.5,"p":104.473},{"k":"lips","i":162.25,"p":104.490},{"k":"lips","i":164.75,"p":104.461},{"k":"lips","i":166.25,"p":104.420},{"k":"lips","i":168,"p":104.379},{"k":"lips","i":169.75,"p":104.367},{"k":"lips","i":171.25,"p":104.400},{"k":"lips","i":173,"p":104.490},{"k":"lips","i":174.75,"p":104.543},{"k":"lips","i":176.25,"p":104.559},{"k":"lips","i":178,"p":104.547},{"k":"lips","i":179.75,"p":104.514},{"k":"lips","i":182.25,"p":104.494},{"k":"lips","i":184.75,"p":104.502},{"k":"lips","i":187.25,"p":104.494},{"k":"lips","i":189.75,"p":104.481},{"k":"lips","i":191.25,"p":104.461},{"k":"lips","i":193.75,"p":104.428},{"k":"lips","i":196.25,"p":104.400},{"k":"lips","i":198.75,"p":104.387},{"k":"lips","i":200.5,"p":104.412},{"k":"lips","i":203,"p":104.420},{"k":"lips","i":205.5,"p":104.400},{"k":"lips","i":208,"p":104.367},{"k":"lips","i":211.25,"p":104.338},{"k":"lips","i":214.75,"p":104.305},{"k":"lips","i":218,"p":104.285},{"k":"lips","i":221.25,"p":104.273},{"k":"lips","i":224.75,"p":104.264},{"k":"lips","i":227.25,"p":104.256},{"k":"lips","i":228.75,"p":104.244},{"k":"lips","i":231.25,"p":104.174},{"k":"lips","i":233,"p":104.113},{"k":"lips","i":234.75,"p":104.064},{"k":"lips","i":236.25,"p":104.039},{"k":"lips","i":238,"p":104.031},{"k":"lips","i":239.75,"p":104.043},{"k":"lips","i":241.25,"p":104.076},{"k":"lips","i":243,"p":104.084},{"k":"lips","i":245.5,"p":104.076},{"k":"lips","i":248,"p":104.064},{"k":"lips","i":251.25,"p":104.060},{"k":"lips","i":253,"p":104.052},{"k":"lips","i":254.75,"p":104.011},{"k":"lips","i":256.25,"p":103.970},{"k":"lips","i":258,"p":103.957}
],
"levels":[{"p":105.761},{"p":105.514},{"p":105.240},{"p":104.950},{"p":104.575},{"p":104.284},{"p":104.050},{"p":103.796},{"p":103.422}],
"trends":[{"i1":8,"p1":105.472,"i2":59.25,"p2":105.812},{"i1":8,"p1":104.944,"i2":158.75,"p2":103.043},{"i1":163.75,"p1":104.707,"i2":274.75,"p2":103.963}],
"seps":[{"i":9},{"i":33},{"i":57},{"i":81},{"i":105},{"i":129},{"i":153},{"i":177},{"i":201},{"i":225},{"i":249},{"i":273}],
"bid":[{"p":103.881}],
"shift":[{"i":191.75,"p":105.793}],
"zero":[{"z":0}]
},
"vconcat":[
{"width":1067,"height":662,
"layer":[
{"data":{"name":"seps"},"mark":{"type":"rule","color":"black","strokeDash":[3,3],"strokeWidth":1},
 "encoding":{"x":{"field":"i","type":"quantitative","scale":{"domain":[8,274.75],"nice":false,"zero":false,"padding":0},
  "axis":{"values":[16,24,32,40,48,56,64,72,80,88,96,104,112,120,128,136,144,152,160,168,176,184,192,200,208,216,224,232,240,248,256,264,272],"labels":false,"ticks":false,"domain":false,"grid":true,"gridColor":"#c0c0c0","gridDash":[3,3],"title":null,"minExtent":0,"maxExtent":0,"offset":0}}}},
{"data":{"name":"candles"},"mark":{"type":"rule","clip":true,"strokeWidth":1},
 "encoding":{"x":{"field":"i","type":"quantitative"},
  "y":{"field":"l","type":"quantitative","scale":{"domain":[103.102,105.812],"nice":false,"zero":false,"padding":0},
   "axis":{"orient":"right","values":[105.71,105.575,105.435,105.3,105.16,105.025,104.885,104.75,104.615,104.475,104.34,104.2,104.065,103.925,103.79,103.65,103.515,103.38,103.245,103.11],"format":".3f","grid":true,"gridColor":"#c0c0c0","gridDash":[3,3],"tickSize":4,"tickColor":"black","labelPadding":5,"domain":false,"title":null,"labelOverlap":false}},
  "y2":{"field":"h"},
  "color":{"condition":{"test":"datum.o == datum.c","value":"black"},"value":"#4169e1"}}},
{"data":{"name":"candles"},"mark":{"type":"bar","orient":"vertical","size":2,"strokeWidth":1,"clip":true},
 "encoding":{"x":{"field":"i","type":"quantitative"},"y":{"field":"o","type":"quantitative"},"y2":{"field":"c"},
  "fill":{"condition":{"test":"datum.c > datum.o","value":"white"},"value":"#4169e1"},
  "stroke":{"condition":{"test":"datum.o == datum.c","value":"black"},"value":"#4169e1"}}},
{"data":{"name":"ma"},"mark":{"type":"line","strokeWidth":1,"clip":true},
 "encoding":{"x":{"field":"i","type":"quantitative"},"y":{"field":"p","type":"quantitative"},
  "color":{"field":"k","type":"nominal","scale":{"domain":["jaw","teeth","lips"],"range":["#0000ff","#ff0000","#00ff00"]},"legend":null}}},
{"data":{"name":"bid"},"mark":{"type":"rule","color":"#c0c0c0","strokeWidth":1},"encoding":{"y":{"field":"p","type":"quantitative"}}},
{"data":{"name":"levels"},"mark":{"type":"rule","color":"#ff0000","strokeWidth":1},"encoding":{"y":{"field":"p","type":"quantitative"}}},
{"data":{"name":"trends"},"mark":{"type":"rule","color":"#ff0000","strokeWidth":1,"clip":true},
 "encoding":{"x":{"field":"i1","type":"quantitative"},"x2":{"field":"i2"},"y":{"field":"p1","type":"quantitative"},"y2":{"field":"p2"}}},
{"data":{"name":"shift"},"mark":{"type":"point","shape":"triangle-down","filled":true,"color":"#a9a9a9","opacity":1,"size":45},
 "encoding":{"x":{"field":"i","type":"quantitative"},"y":{"field":"p","type":"quantitative"}}},
{"data":{"name":"levels"},"mark":{"type":"point","shape":"M0.3,-0.5H3.85V0.5H0.3Z","size":676,"filled":true,"color":"#ff0000","opacity":1,"strokeWidth":0},
 "encoding":{"x":{"value":"width"},"y":{"field":"p","type":"quantitative"}}},
{"data":{"name":"levels"},"mark":{"type":"text","align":"left","baseline":"middle","dx":10,"color":"white","fontSize":10,"font":"Liberation Sans"},
 "encoding":{"x":{"value":"width"},"y":{"field":"p","type":"quantitative"},"text":{"field":"p","type":"quantitative","format":".3f"}}},
{"data":{"name":"bid"},"mark":{"type":"point","shape":"M0.3,-0.5H3.85V0.5H0.3Z","size":676,"filled":true,"color":"black","opacity":1,"strokeWidth":0},
 "encoding":{"x":{"value":"width"},"y":{"field":"p","type":"quantitative"}}},
{"data":{"name":"bid"},"mark":{"type":"text","align":"left","baseline":"middle","dx":10,"color":"white","fontSize":10,"font":"Liberation Sans"},
 "encoding":{"x":{"value":"width"},"y":{"field":"p","type":"quantitative"},"text":{"field":"p","type":"quantitative","format":".3f"}}}
]},
{"width":1067,"height":66,
"resolve":{"axis":{"x":"independent"}},
"layer":[
{"data":{"name":"seps"},"mark":{"type":"rule","color":"black","strokeDash":[3,3],"strokeWidth":1},
 "encoding":{"x":{"field":"i","type":"quantitative","scale":{"domain":[8,274.75],"nice":false,"zero":false,"padding":0},
  "axis":{"orient":"top","values":[16,24,32,40,48,56,64,72,80,88,96,104,112,120,128,136,144,152,160,168,176,184,192,200,208,216,224,232,240,248,256,264,272],"labels":false,"ticks":false,"domain":false,"grid":true,"gridColor":"#c0c0c0","gridDash":[3,3],"title":null,"minExtent":0,"maxExtent":0,"offset":0}}}},
{"data":{"name":"zero"},"mark":{"type":"rule","color":"#c0c0c0","strokeDash":[3,3],"strokeWidth":1},"encoding":{"y":{"field":"z","type":"quantitative"}}},
{"data":{"name":"candles"},"mark":{"type":"bar","orient":"vertical","size":1,"color":"#b4b4b4","clip":true},
 "encoding":{"x":{"field":"i","type":"quantitative",
   "axis":{"orient":"bottom","values":[8.75,16,32,48,64,80,96,112,128,144,160,176,192,208,224,240],"labelExpr":"['15:00','16 Nov 07:00','16 Nov 23:00','17 Nov 15:00','18 Nov 07:00','18 Nov 23:00','19 Nov 15:00','20 Nov 07:00','20 Nov 23:00','23 Nov 15:00','24 Nov 07:00','24 Nov 23:00','25 Nov 15:00','26 Nov 07:00','26 Nov 23:00','27 Nov 15:00'][floor(datum.value/16)]","labelAlign":"left","labelFlush":false,"tickSize":4,"tickColor":"black","labelPadding":1,"grid":false,"domain":false,"title":null,"labelOverlap":false}},
  "y":{"field":"m","type":"quantitative","scale":{"domain":[-0.2847,0.5869],"nice":false,"zero":false,"padding":0},
   "axis":{"orient":"right","values":[0.5869,0.0001,-0.2847],"labelExpr":"datum.value > 0.5 ? '0.5869' : datum.value < -0.2 ? '-0.2847' : '0.00'","labelBaseline":{"expr":"datum.value > 0.5 ? 'top' : datum.value < -0.2 ? 'bottom' : 'middle'"},"labelFlush":false,"grid":false,"tickSize":4,"tickColor":"black","labelPadding":5,"labelOverlap":false,"labelBound":false,"domain":false,"title":null}},
  "y2":{"datum":0}}},
{"data":{"name":"candles"},"mark":{"type":"line","color":"#ff0000","strokeDash":[2,2],"strokeWidth":1,"clip":true},
 "encoding":{"x":{"field":"i","type":"quantitative","axis":null},"y":{"field":"s","type":"quantitative"}}},
{"data":{"name":"zero"},"mark":{"type":"text","align":"left","baseline":"middle","dx":9,"fontSize":10,"font":"Liberation Sans","color":"black"},
 "encoding":{"x":{"value":"width"},"y":{"field":"z","type":"quantitative"},"text":{"value":"0.00"}}}
]}
]
}
